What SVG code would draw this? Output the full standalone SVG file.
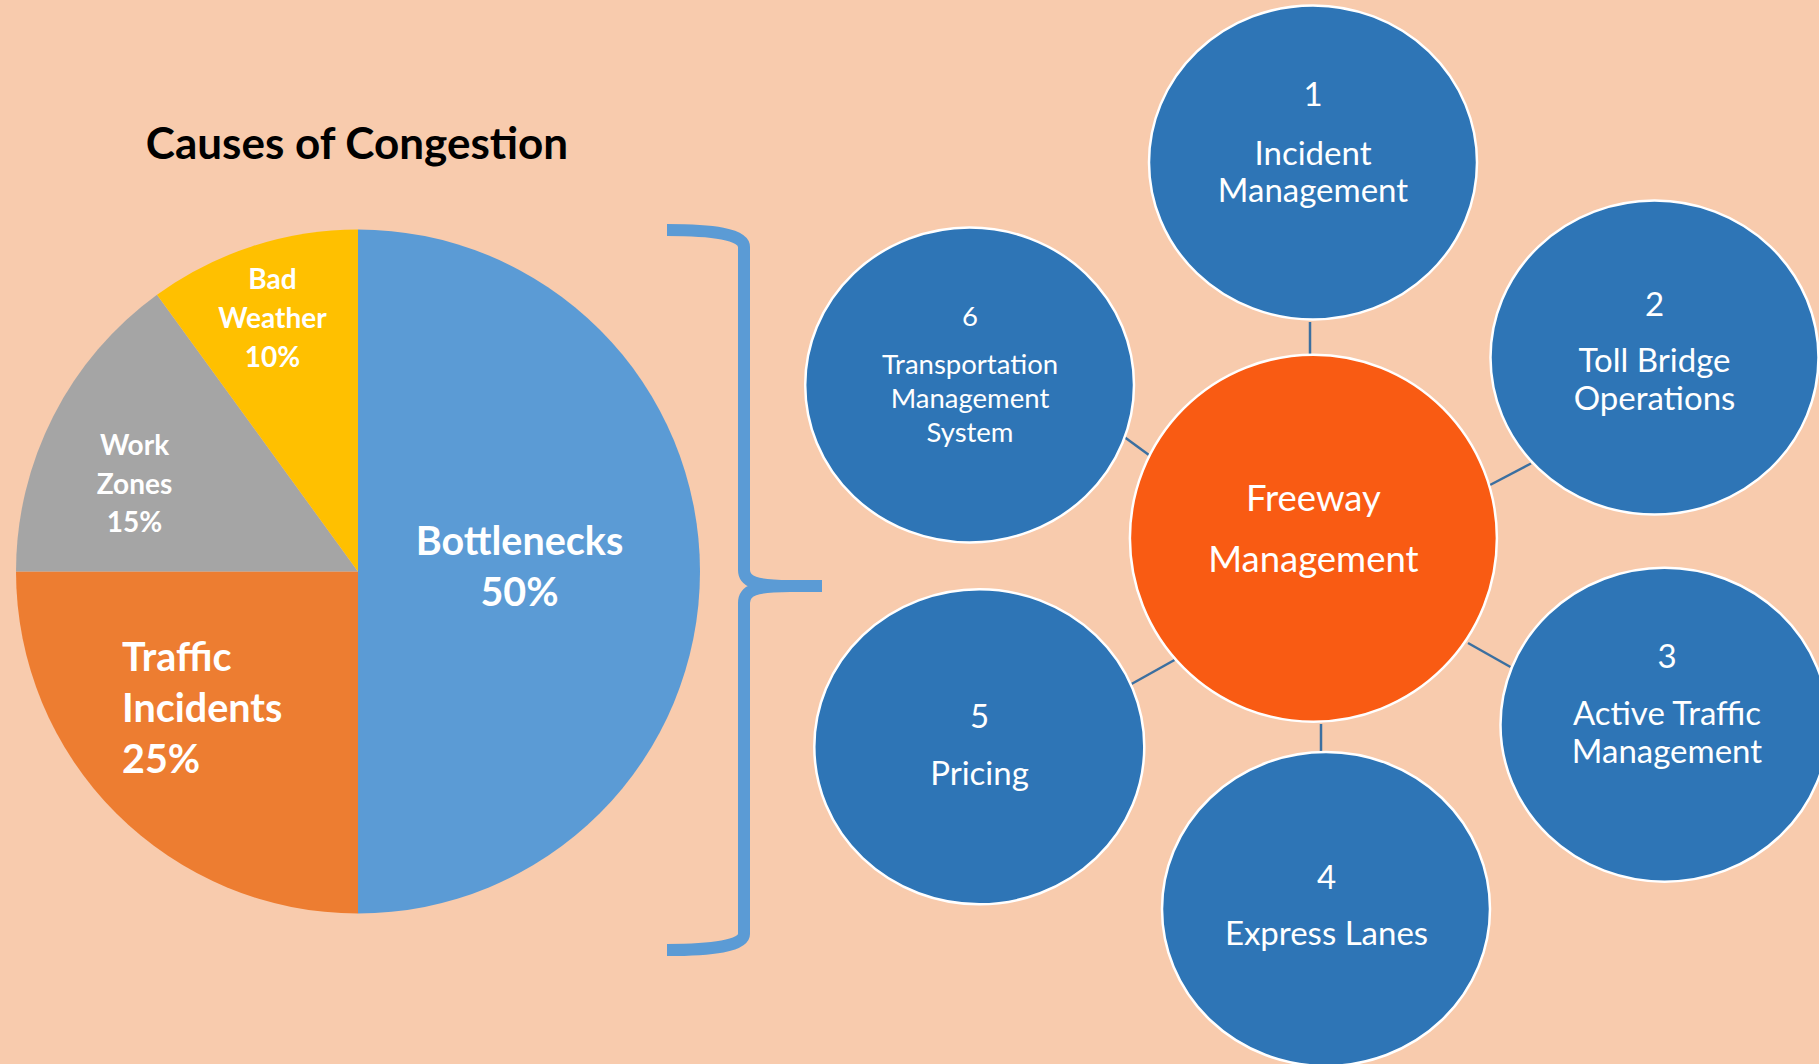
<svg xmlns="http://www.w3.org/2000/svg" width="1819" height="1064" viewBox="0 0 1819 1064">
<style>
.bg{fill:#F8CBAD}
.title{font-family:Lato,"Open Sans","Liberation Sans",sans-serif;font-weight:bold;font-size:44px;fill:#000;text-anchor:middle}
.pl{font-family:Lato,"Open Sans","Liberation Sans",sans-serif;font-weight:bold;fill:#fff}
.sm{font-size:28px;text-anchor:middle}
.lg{font-size:39.5px}
.node ellipse{fill:#2E75B6;stroke:#fff;stroke-width:2.5}
.hub circle{fill:#F95B13;stroke:#fff;stroke-width:2.5}
.nt{font-family:Lato,"Open Sans","Liberation Sans",sans-serif;fill:#fff;font-size:33px;text-anchor:middle}
.nt6{font-size:27.5px}
.ht{font-size:36.5px}
.conn line{stroke:#3B6FA0;stroke-width:2.5}
.brace{fill:none;stroke:#5B9BD5;stroke-width:12;stroke-linejoin:round}
</style>
<rect class="bg" x="0" y="0" width="1819" height="1064"/>
<text class="title" x="357" y="159">Causes of Congestion</text>
<g id="pie">
<path d="M358,571.5 L358,229.5 A342,342 0 0 1 358,913.5 Z" fill="#5B9BD5"/>
<path d="M358,571.5 L358,913.5 A342,342 0 0 1 16,571.5 Z" fill="#ED7D31"/>
<path d="M358,571.5 L16,571.5 A342,342 0 0 1 157,294.8 Z" fill="#A5A5A5"/>
<path d="M358,571.5 L157,294.8 A342,342 0 0 1 358,229.5 Z" fill="#FFC000"/>
<text class="pl sm" x="272.5"><tspan x="272.5" y="289">Bad</tspan><tspan x="272.5" y="328">Weather</tspan><tspan x="272.5" y="367">10%</tspan></text>
<text class="pl sm" x="134.5"><tspan x="134.5" y="455">Work</tspan><tspan x="134.5" y="493.5">Zones</tspan><tspan x="134.5" y="532">15%</tspan></text>
<text class="pl lg" text-anchor="middle"><tspan x="519.5" y="555">Bottlenecks</tspan><tspan x="519.5" y="606">50%</tspan></text>
<text class="pl lg"><tspan x="122" y="671">Traffic</tspan><tspan x="122" y="722">Incidents</tspan><tspan x="122" y="773">25%</tspan></text>
</g>
<path id="bracket" class="brace" d="M667,230 C712,230 744,234 744,247 L744,570 C744,582 756,586 790,586 L822,586 M790,586 C756,586 744,590 744,603 L744,934 C744,946 712,950 667,950"/>
<g class="conn" id="connectors">
<line x1="1310" y1="322" x2="1310" y2="355"/>
<line x1="1490" y1="485" x2="1531" y2="463.5"/>
<line x1="1468" y1="643" x2="1510.5" y2="667"/>
<line x1="1321" y1="724" x2="1321" y2="752"/>
<line x1="1174.5" y1="660" x2="1131.5" y2="684"/>
<line x1="1125" y1="437.5" x2="1151" y2="456.5"/>
</g>
<g id="n1" class="node"><ellipse cx="1313" cy="162.4" rx="164" ry="157"/>
<text class="nt"><tspan x="1313" y="106">1</tspan><tspan x="1313" y="164.5">Incident</tspan><tspan x="1313" y="202">Management</tspan></text></g>
<g id="n2" class="node"><ellipse cx="1654.5" cy="357.6" rx="164" ry="157"/>
<text class="nt"><tspan x="1654.5" y="315.5">2</tspan><tspan x="1654.5" y="372">Toll Bridge</tspan><tspan x="1654.5" y="410">Operations</tspan></text></g>
<g id="n3" class="node"><ellipse cx="1664.5" cy="724.7" rx="164" ry="157"/>
<text class="nt"><tspan x="1667" y="667.5">3</tspan><tspan x="1667" y="724.5">Active Traffic</tspan><tspan x="1667" y="763">Management</tspan></text></g>
<g id="n4" class="node"><ellipse cx="1326" cy="909" rx="164" ry="157"/>
<text class="nt"><tspan x="1326.5" y="889">4</tspan><tspan x="1326.5" y="944.5">Express Lanes</tspan></text></g>
<g id="n5" class="node"><ellipse cx="979.3" cy="746.8" rx="165" ry="157.5"/>
<text class="nt"><tspan x="979.5" y="728">5</tspan><tspan x="979.5" y="785">Pricing</tspan></text></g>
<g id="n6" class="node"><ellipse cx="969.6" cy="385" rx="164.4" ry="157.5"/>
<text class="nt nt6"><tspan x="970" y="326">6</tspan><tspan x="970" y="374">Transportation</tspan><tspan x="970" y="408.3">Management</tspan><tspan x="970" y="441.7">System</tspan></text></g>
<g id="hub" class="hub"><circle cx="1313.4" cy="538.2" r="183.5"/>
<text class="nt ht"><tspan x="1313.4" y="510.7">Freeway</tspan><tspan x="1313.4" y="571.7">Management</tspan></text></g>
</svg>
